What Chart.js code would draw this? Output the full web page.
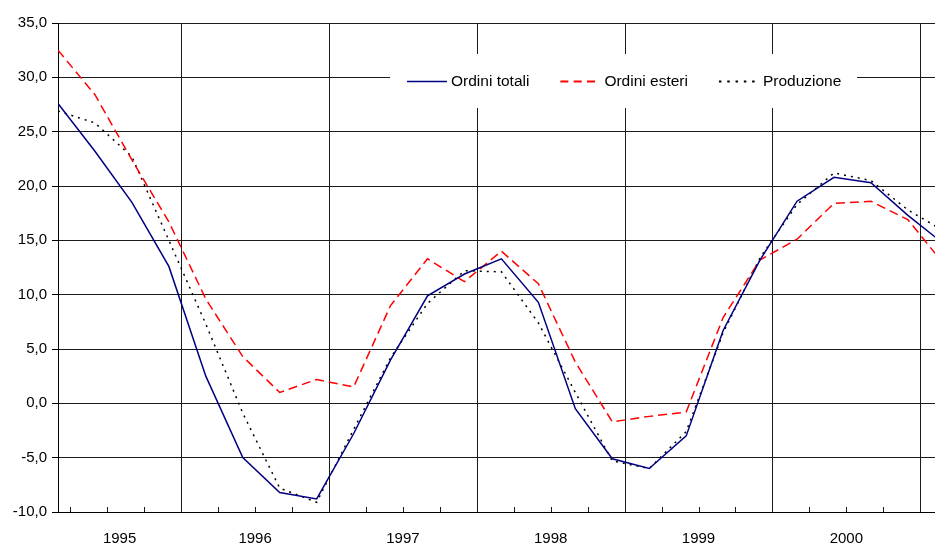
<!DOCTYPE html>
<html lang="it">
<head>
<meta charset="utf-8">
<title>Ordini e produzione</title>
<script src="https://cdn.jsdelivr.net/npm/chart.js@4.4.1/dist/chart.umd.min.js"></script>
<style>
  html, body { margin: 0; padding: 0; background: #fff; overflow: hidden; }
  canvas { display: block; }
</style>
</head>
<body>
<canvas id="trendChart" width="935" height="544"></canvas>
<script>
// --- Dati trimestrali (variazioni %) ---
const periods = [
    '1995-03', '1995-06', '1995-09', '1995-12',
    '1996-03', '1996-06', '1996-09', '1996-12',
    '1997-03', '1997-06', '1997-09', '1997-12',
    '1998-03', '1998-06', '1998-09', '1998-12',
    '1999-03', '1999-06', '1999-09', '1999-12',
    '2000-03', '2000-06', '2000-09', '2000-12',
    '2001-03'
];
const years = ['1995', '1996', '1997', '1998', '1999', '2000'];
const yTicks = [-10, -5, 0, 5, 10, 15, 20, 25, 30, 35];

const ordiniTotali = [
    27.6, 23.2, 18.5, 12.6,
    2.5, -5.0, -8.2, -8.8,
    -2.8, 4.0, 9.9, 11.9,
    13.3, 9.3, -0.5, -5.1,
    -6.0, -3.0, 6.7, 13.2,
    18.6, 20.8, 20.3, 17.3,
    14.6
];
const ordiniEsteri = [
    32.5, 28.4, 22.4, 16.7,
    9.6, 4.3, 1.0, 2.2,
    1.5, 9.0, 13.3, 11.2,
    14.0, 11.0, 3.8, -1.7,
    -1.2, -0.8, 7.9, 13.2,
    15.1, 18.4, 18.6, 16.9,
    12.7
];
const produzione = [
    26.9, 25.8, 22.7, 15.0,
    7.3, -0.9, -7.8, -9.1,
    -2.4, 4.2, 9.2, 12.2,
    12.1, 7.4, 1.0, -5.3,
    -6.0, -2.6, 6.5, 13.4,
    18.3, 21.2, 20.5, 17.8,
    15.8
];

// months counted from January of the first year
const baseYear = Number(years[0]);
function monthIndex(p) {
    const [y, m] = p.split('-').map(Number);
    return (y - baseYear) * 12 + (m - 1);
}
const xs = periods.map(monthIndex);
const toPoints = vals => vals.map((v, i) => ({ x: xs[i], y: v }));

const FONT = '"Liberation Sans", Arial, sans-serif';
Chart.defaults.font.family = FONT;
Chart.defaults.color = '#000';

// --- Year separators + quarter tick marks (inside the plot) ---
const yearGrid = {
    id: 'yearGrid',
    beforeDatasetsDraw(chart) {
        const { ctx, chartArea: a, scales: { x } } = chart;
        ctx.save();
        ctx.strokeStyle = '#1a1a1a';
        ctx.lineWidth = 1;
        ctx.beginPath();
        for (let m = Math.ceil(x.min / 3) * 3; m <= x.max; m += 3) {
            const px = Math.round(x.getPixelForValue(m)) + 0.5;
            if (m % 12 === 0) {
                ctx.moveTo(px, a.top);
                ctx.lineTo(px, a.bottom);
            } else {
                ctx.moveTo(px, a.bottom);
                ctx.lineTo(px, a.bottom - 5);
            }
        }
        ctx.stroke();
        ctx.restore();
    }
};

// --- Legend box sitting inside the plot ---
const inlineLegend = {
    id: 'inlineLegend',
    afterDraw(chart) {
        const { ctx } = chart;
        const box = { left: 390, top: 54, right: 857, bottom: 108 };
        const cy = 81.5;
        ctx.save();
        ctx.fillStyle = '#fff';
        ctx.fillRect(box.left, box.top, box.right - box.left, box.bottom - box.top);
        ctx.font = '15.5px ' + FONT;
        ctx.textBaseline = 'middle';
        let x = box.left + 17;
        chart.data.datasets.forEach(ds => {
            ctx.strokeStyle = ds.borderColor;
            ctx.lineWidth = ds.borderDash ? 2 : 1.5;
            ctx.setLineDash(ds.legendDash || []);
            ctx.beginPath();
            ctx.moveTo(x, cy);
            ctx.lineTo(x + 40, cy);
            ctx.stroke();
            ctx.setLineDash([]);
            ctx.fillStyle = '#000';
            ctx.fillText(ds.label, x + 44, cy + 0.5);
            x += 44 + ctx.measureText(ds.label).width + 31;
        });
        ctx.restore();
    }
};

new Chart(document.getElementById('trendChart').getContext('2d'), {
    type: 'line',
    data: {
        datasets: [
            {
                label: 'Ordini totali',
                data: toPoints(ordiniTotali),
                borderColor: '#000080',
                borderWidth: 1.5
            },
            {
                label: 'Ordini esteri',
                data: toPoints(ordiniEsteri),
                borderColor: '#ff0000',
                borderWidth: 1.5,
                borderDash: [9, 5],
                legendDash: [8, 5.3]
            },
            {
                label: 'Produzione',
                data: toPoints(produzione),
                borderColor: '#000000',
                borderWidth: 1.5,
                borderDash: [2, 5],
                legendDash: [2.5, 5.8]
            }
        ]
    },
    options: {
        responsive: false,
        animation: false,
        devicePixelRatio: 1,
        layout: { padding: { top: 23, right: 0, bottom: 0, left: 0 } },
        elements: { point: { radius: 0 }, line: { tension: 0 } },
        plugins: { legend: { display: false }, tooltip: { enabled: false } },
        scales: {
            x: {
                type: 'linear',
                min: xs[0],
                max: 73.2,
                grid: { display: false, drawTicks: false },
                border: { display: true, color: '#000', width: 1 },
                ticks: {
                    autoSkip: false,
                    maxRotation: 0,
                    padding: 18,
                    font: { size: 15 },
                    callback: (v, i) => years[i]
                },
                // one label per year, centred on the visible part of that year
                afterBuildTicks: s => {
                    s.ticks = years.map((y, i) => {
                        const start = Math.max(i * 12, s.min);
                        const end = Math.min((i + 1) * 12, s.max);
                        return { value: (start + end) / 2 };
                    });
                },
                afterFit: s => { s.height = 32; }
            },
            y: {
                min: yTicks[0],
                max: yTicks[yTicks.length - 1],
                grid: { color: '#1a1a1a', lineWidth: 1, tickLength: 6, tickColor: '#000' },
                border: { display: true, color: '#000', width: 1 },
                ticks: {
                    padding: 5,
                    font: { size: 15 },
                    callback: v => v.toFixed(1).replace('.', ',')
                },
                afterBuildTicks: s => { s.ticks = yTicks.map(v => ({ value: v })); },
                afterFit: s => { s.width = 58; }
            }
        }
    },
    plugins: [yearGrid, inlineLegend]
});
</script>
</body>
</html>
